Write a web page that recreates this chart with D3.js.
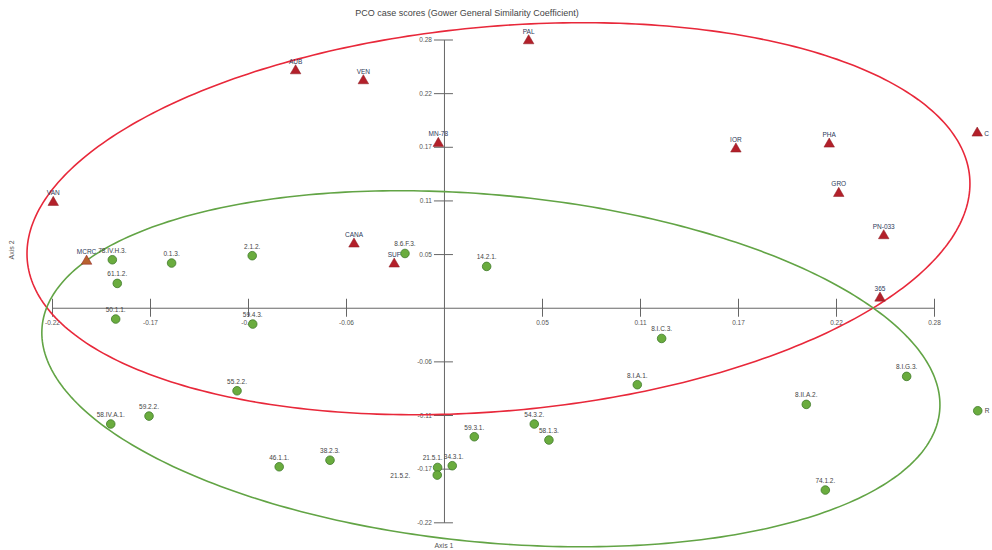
<!DOCTYPE html>
<html>
<head>
<meta charset="utf-8">
<script src="https://cdn.jsdelivr.net/npm/d3@7"></script>
<style>
  body { margin: 0; background: #fff; }
  text { font-family: "Liberation Sans", Arial, sans-serif; }
</style>
</head>
<body>
<div id="chart"></div>
<script>
// Case names and PCO scores (axis 1, axis 2)
var caseNames = ["AUB", "VEN", "PAL", "MN-78", "VAN", "MCRC", "CANA", "SUF", "IOR", "PHA", "GRO", "PN-033", "C", "365",
  "78.IV.H.3.", "0.1.3.", "2.1.2.", "61.1.2.", "50.1.1.", "59.4.3.", "55.2.2.", "59.2.2.", "58.IV.A.1.", "46.1.1.",
  "38.2.3.", "8.6.F.3.", "14.2.1.", "59.3.1.", "54.3.2.", "58.1.3.", "21.5.1.", "21.5.2.", "34.3.1.", "8.I.C.3.",
  "8.I.A.1.", "8.II.A.2.", "8.I.G.3.", "74.1.2.", "R"];
var axis1 = [-0.0841, -0.0457, 0.0480, -0.0032, -0.2215, -0.2026, -0.0510, -0.0282, 0.1655, 0.2184, 0.2238, 0.2493, 0.3023, 0.2472,
  -0.1880, -0.1544, -0.1087, -0.1852, -0.1861, -0.1084, -0.1173, -0.1672, -0.1889, -0.0934,
  -0.0646, -0.0221, 0.0242, 0.0172, 0.0512, 0.0595, -0.0036, -0.0038, 0.0047, 0.1234,
  0.1096, 0.2054, 0.2623, 0.2162, 0.3026];
var axis2 = [0.2454, 0.2351, 0.2765, 0.1702, 0.1091, 0.0482, 0.0660, 0.0453, 0.1644, 0.1695, 0.1184, 0.0746, 0.1809, 0.0100,
  0.0497, 0.0463, 0.0539, 0.0252, -0.0117, -0.0169, -0.0860, -0.1122, -0.1204, -0.1647,
  -0.1579, 0.0562, 0.0428, -0.1336, -0.1204, -0.1370, -0.1654, -0.1733, -0.1636, -0.0318,
  -0.0797, -0.1001, -0.0711, -0.1888, -0.1067];
// group of each case: "t" = triangle group, "c" = circle group
var caseGroup = ["t", "t", "t", "t", "t", "t", "t", "t", "t", "t", "t", "t", "t", "t",
  "c", "c", "c", "c", "c", "c", "c", "c", "c", "c",
  "c", "c", "c", "c", "c", "c", "c", "c", "c", "c",
  "c", "c", "c", "c", "c"];

// tick labels (10 evenly spaced ticks, the one at the origin is left blank)
var xTickLabels = ["-0.22", "-0.17", "-0.11", "-0.06", "", "0.05", "0.11", "0.17", "0.22", "0.28"];
var yTickLabels = ["-0.22", "-0.17", "-0.11", "-0.06", "", "0.05", "0.11", "0.17", "0.22", "0.28"];

// group ellipses: centre and two conjugate semi-axis vectors, in score units
var ellipseCentre = [[0.0309, 0.0922], [0.0266, -0.0632]];
var ellipseU = [[0.2671, 0.0435], [0.2544, -0.0438]];
var ellipseV = [[0.0097, -0.1983], [-0.0092, -0.1791]];

var svgWidth = 992;
var svgHeight = 550;

var svg = d3.select("#chart")
  .append("svg")
  .attr("width", svgWidth)
  .attr("height", svgHeight);

var domainMin = -0.2222, domainMax = 0.2778;
var xScale = d3.scaleLinear().domain([domainMin, domainMax]).range([52, 934]);
var yScale = d3.scaleLinear().domain([domainMin, domainMax]).range([522.3, 39.5]);

var step = (domainMax - domainMin) / 9;
var tickVals = d3.range(10).map(i => domainMin + i * step);

// Title
svg.append("text")
  .attr("x", 467)
  .attr("y", 16)
  .attr("text-anchor", "middle")
  .attr("font-size", "9px")
  .attr("fill", "#444")
  .text("PCO case scores (Gower General Similarity Coefficient)");

// Axes crossing at the origin
var bottomAxis = d3.axisBottom(xScale)
  .tickValues(tickVals)
  .tickSize(9)
  .tickSizeOuter(0)
  .tickPadding(4)
  .tickFormat((d, i) => xTickLabels[i]);
var xAxisG = svg.append("g")
  .attr("transform", `translate(0, ${yScale(0)})`)
  .call(bottomAxis);
xAxisG.selectAll(".tick line").attr("y1", -9);
xAxisG.selectAll(".tick").filter((d, i) => i === 4).remove();

var leftAxis = d3.axisLeft(yScale)
  .tickValues(tickVals)
  .tickSize(10)
  .tickSizeOuter(0)
  .tickPadding(2)
  .tickFormat((d, i) => yTickLabels[i]);
var yAxisG = svg.append("g")
  .attr("transform", `translate(${xScale(0)}, 0)`)
  .call(leftAxis);
yAxisG.selectAll(".tick line").attr("x1", 9);
yAxisG.selectAll(".tick").filter((d, i) => i === 4).remove();

svg.selectAll(".domain, .tick line").attr("stroke", "#666").attr("stroke-width", 1);
svg.selectAll(".tick text").attr("font-size", "6.5px").attr("fill", "#555")
  .attr("font-family", "Liberation Sans, Arial, sans-serif");

// Axis titles
svg.append("text")
  .attr("x", xScale(0))
  .attr("y", 548)
  .attr("text-anchor", "middle")
  .attr("font-size", "7px")
  .attr("fill", "#555")
  .text("Axis 1");
svg.append("text")
  .attr("transform", "translate(14, 250) rotate(-90)")
  .attr("text-anchor", "middle")
  .attr("font-size", "7px")
  .attr("fill", "#555")
  .text("Axis 2");

// Ellipses
var ellipseColors = ["#e8283a", "#62a445"];
var lineGen = d3.line().x(d => xScale(d[0])).y(d => yScale(d[1])).curve(d3.curveLinearClosed);
ellipseCentre.forEach(function(c, k) {
  var pts = d3.range(0, 2 * Math.PI, Math.PI / 180).map(function(t) {
    return [c[0] + ellipseU[k][0] * Math.cos(t) + ellipseV[k][0] * Math.sin(t),
            c[1] + ellipseU[k][1] * Math.cos(t) + ellipseV[k][1] * Math.sin(t)];
  });
  svg.append("path")
    .attr("d", lineGen(pts))
    .attr("fill", "none")
    .attr("stroke", ellipseColors[k])
    .attr("stroke-width", 1.6);
});

// Points
var cases = caseNames.map((n, i) => ({ name: n, a1: axis1[i], a2: axis2[i], group: caseGroup[i] }));

var triangle = d3.symbol().type(d3.symbolTriangle).size(48);
svg.selectAll("path.tri")
  .data(cases.filter(d => d.group === "t"))
  .enter()
  .append("path")
  .attr("class", "tri")
  .attr("d", triangle)
  .attr("transform", d => `translate(${xScale(d.a1)}, ${yScale(d.a2)})`)
  .attr("fill", d => d.name === "MCRC" ? "#b8622e" : "#b3202a")
  .attr("stroke", "#8a1a20")
  .attr("stroke-width", 0.5);

svg.selectAll("circle.pt")
  .data(cases.filter(d => d.group === "c"))
  .enter()
  .append("circle")
  .attr("class", "pt")
  .attr("cx", d => xScale(d.a1))
  .attr("cy", d => yScale(d.a2))
  .attr("r", 4.3)
  .attr("fill", "#6aac3e")
  .attr("stroke", "#3f7a2a")
  .attr("stroke-width", 0.8);

// Case labels: above the marker, except a few that are set aside
function labelPos(d) {
  var x = xScale(d.a1), y = yScale(d.a2);
  if (d.name === "C" || d.name === "R") return { x: x + 7, y: y + 2.5, anchor: "start" };
  if (d.name === "21.5.1.") return { x: x + 5, y: y - 7, anchor: "end" };
  if (d.name === "21.5.2.") return { x: x - 27, y: y + 3, anchor: "end" };
  if (d.name === "34.3.1.") return { x: x + 1.5, y: y - 7, anchor: "middle" };
  return { x: x, y: y - 7, anchor: "middle" };
}
svg.selectAll("text.lbl")
  .data(cases)
  .enter()
  .append("text")
  .attr("class", "lbl")
  .attr("x", d => labelPos(d).x)
  .attr("y", d => labelPos(d).y)
  .attr("text-anchor", d => labelPos(d).anchor)
  .attr("font-size", "6.5px")
  .attr("fill", d => d.group === "t" ? "#2c3a5a" : "#444")
  .text(d => d.name);
</script>
</body>
</html>
